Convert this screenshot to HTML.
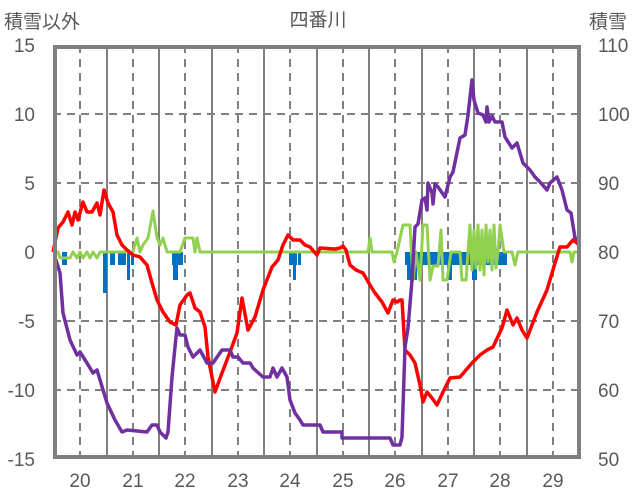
<!DOCTYPE html>
<html><head><meta charset="utf-8"><style>
body{margin:0;background:#fff;}
svg{display:block;font-family:"Liberation Sans","Noto Sans CJK JP",sans-serif;}
</style></head><body>
<svg width="636" height="501" viewBox="0 0 636 501">
<rect width="636" height="501" fill="#fff"/>
<g fill="#595959" font-size="17">
<text x="4" y="28" font-family="'Noto Sans CJK JP',sans-serif" font-size="19">積雪以外</text>
<text x="318" y="26" text-anchor="middle" font-family="'Noto Sans CJK JP',sans-serif" font-size="19">四番川</text>
<text x="589" y="28" font-family="'Noto Sans CJK JP',sans-serif" font-size="19">積雪</text>
<g text-anchor="end" font-size="19">
<text x="35" y="52">15</text><text x="35" y="121">10</text><text x="35" y="190">5</text><text x="35" y="259">0</text><text x="35" y="328">-5</text><text x="35" y="397">-10</text><text x="35" y="466">-15</text>
</g>
<g font-size="19">
<text x="598" y="52">110</text><text x="598" y="121">100</text><text x="598" y="190">90</text><text x="598" y="259">80</text><text x="598" y="328">70</text><text x="598" y="397">60</text><text x="598" y="466">50</text>
</g>
<g text-anchor="middle" font-size="19">
<text x="80" y="487">20</text><text x="133" y="487">21</text><text x="185" y="487">22</text><text x="238" y="487">23</text><text x="290" y="487">24</text><text x="343" y="487">25</text><text x="395" y="487">26</text><text x="448" y="487">27</text><text x="500" y="487">28</text><text x="553" y="487">29</text>
</g>
</g>
<g stroke="#808080" stroke-width="2" stroke-dasharray="8,6">
<path d="M53 114H581M53 183H581M53 321H581M53 390H581"/>
<path d="M80 45V459M133 45V459M185 45V459M238 45V459M290 45V459M343 45V459M395 45V459M448 45V459M500 45V459M553 45V459"/>
</g>
<g stroke="#808080" stroke-width="2">
<path d="M107 45V459M159 45V459M212 45V459M264 45V459M317 45V459M369 45V459M422 45V459M474 45V459M527 45V459"/>
</g>
<g fill="#0070c0">
<rect x="62" y="252" width="5" height="13"/><rect x="103" y="252" width="4" height="41"/><rect x="110" y="252" width="5" height="13"/><rect x="118" y="252" width="4" height="13"/><rect x="122" y="252" width="4" height="13"/><rect x="127" y="252" width="3" height="28"/><rect x="131" y="252" width="3" height="13"/>
<rect x="172" y="252" width="11" height="13"/><rect x="173" y="252" width="5" height="28"/>
<rect x="289" y="252" width="8" height="13"/><rect x="293" y="252" width="3" height="28"/><rect x="298" y="252" width="3" height="13"/>
<rect x="405" y="252" width="102" height="13"/><rect x="407" y="252" width="10" height="28"/><rect x="447" y="252" width="5" height="28"/><rect x="472" y="252" width="5" height="28"/><rect x="577" y="252" width="3" height="13"/>
</g>
<polyline fill="none" stroke="#92d050" stroke-width="3" stroke-linejoin="round" points="53,252 58,252 60,258 70,258 73,252 77,258 80,252 83,258 87,252 90,258 93,252 97,258 100,252 133,252 137,238 140,252 143,245 148,238 153,211 157,238 160,245 163,238 167,252 180,252 185,238 193,238 195,252 197,238 200,252 368,252 370,238 372,252 392,252 394,262 397,252 403,225 410,225 413,280 416,252 420,280 423,225 427,225 430,280 433,266 438,266 441,230 443,280 447,280 451,252 460,252 462,280 466,280 468,252 470,225 472,270 474,230 476,268 478,225 480,270 482,230 484,275 486,225 488,262 490,230 492,270 494,225 496,268 498,252 500,225 504,252 512,252 515,265 518,252 570,252 572,262 574,252 581,252"/>
<polyline fill="none" stroke="#ff0000" stroke-width="3.5" stroke-linejoin="round" points="53,252 58,228 63,222 68,212 72,225 75,212 78,220 83,202 87,212 92,212 97,203 100,215 104,190 108,203 113,212 117,235 122,245 127,250 133,255 140,257 147,265 152,283 157,300 163,312 170,322 176,325 180,305 187,295 190,293 195,308 200,312 205,327 208,357 215,392 222,373 230,352 237,333 242,298 248,330 255,317 263,290 272,267 278,260 283,245 288,235 293,240 300,240 305,245 310,247 317,255 320,248 335,249 340,248 343,246 346,250 350,265 356,270 363,273 370,285 375,293 382,302 388,313 393,300 397,302 400,300 402,300 405,350 410,355 415,363 420,385 423,402 427,392 432,398 437,405 443,392 450,378 460,377 466,370 472,363 480,355 487,350 493,347 502,328 507,310 513,325 517,318 522,330 527,338 537,312 547,290 555,263 560,247 567,247 573,240 577,243 580,246"/>
<polyline fill="none" stroke="#7030a0" stroke-width="3.5" stroke-linejoin="round" points="54,258 56,260 60,273 63,313 70,340 77,355 80,352 87,363 93,373 97,370 107,403 115,420 122,432 127,430 147,432 152,425 157,425 160,432 166,438 168,432 172,377 175,347 177,328 180,335 185,335 188,347 193,357 200,350 207,363 213,363 222,350 230,350 233,357 238,357 243,363 250,363 253,368 263,377 270,377 273,368 277,377 282,368 287,377 290,400 295,413 300,420 303,425 312,425 320,425 323,432 342,432 342,438 390,438 393,445 400,445 402,437 405,347 408,328 412,280 415,227 418,224 422,200 425,198 427,210 428,183 432,193 433,204 435,184 438,187 445,197 450,177 453,172 460,138 465,135 468,115 472,80 474,100 478,113 483,115 486,122 487,107 489,122 492,116 495,122 502,122 505,137 512,148 517,143 523,163 530,170 535,177 540,182 547,190 550,183 557,177 562,190 567,210 571,213 575,238 578,240"/>
<rect x="55" y="47" width="524" height="410" fill="none" stroke="#808080" stroke-width="4"/>
</svg>
</body></html>
